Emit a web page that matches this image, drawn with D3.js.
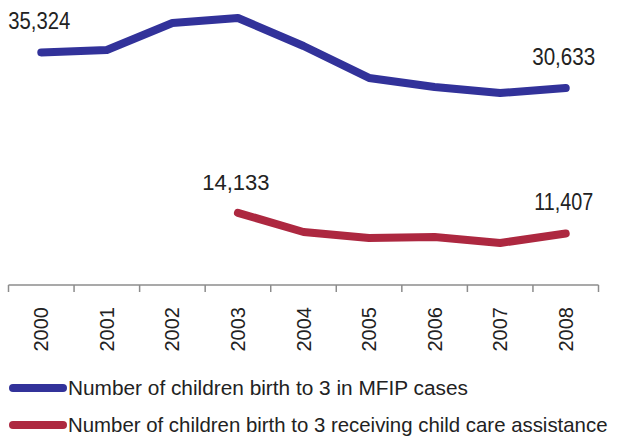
<!DOCTYPE html>
<html lang="en">
<head>
  <meta charset="utf-8">
  <title>Children birth to 3</title>
  <script src="https://d3js.org/d3.v7.min.js"></script>
  <style>
    body { margin: 0; background: #fff; }
  </style>
</head>
<body>
<script>
// data
var years = ["2000","2001","2002","2003","2004","2005","2006","2007","2008"];
var mfip = [35324, 35640, 39210, 39870, 36170, 31950, 30760, 29960, 30633];
var childCare = [null, null, null, 14133, 11600, 10810, 10940, 10150, 11407];
var seriesNames = ["Number of children birth to 3 in MFIP cases",
                   "Number of children birth to 3 receiving child care assistance"];
var seriesColors = ["#32329a", "#ad2840"];

var w = 618, h = 441;
var axisY = 285;

var svg = d3.select("body").append("svg")
  .attr("width", w)
  .attr("height", h);

var x = d3.scaleBand()
  .domain(years)
  .range([8.5, 598.5]);

var y = d3.scaleLinear()
  .domain([4600, 40000])
  .range([axisY, 17]);

// squeeze a text horizontally to a wanted width (stand-in for a narrow face)
function squeeze(sel, width, anchorX) {
  sel.each(function() {
    var t = d3.select(this);
    var natural = this.getComputedTextLength();
    var s = width / natural;
    t.attr("transform", "translate(" + anchorX + ",0) scale(" + s + ",1) translate(" + (-anchorX) + ",0)");
  });
}

// x axis: baseline with ticks at category edges
var axisG = svg.append("g").attr("transform", "translate(0," + axisY + ")");
axisG.append("line")
  .attr("x1", x.range()[0]).attr("x2", x.range()[1])
  .attr("stroke", "#8c8c8c").attr("stroke-width", 1.5);
var edges = years.map(function(d) { return x(d); }).concat([x.range()[1]]);
axisG.selectAll(".tk").data(edges).enter().append("line")
  .attr("x1", function(d) { return d; }).attr("x2", function(d) { return d; })
  .attr("y1", 0).attr("y2", 7)
  .attr("stroke", "#8c8c8c").attr("stroke-width", 1.5);

axisG.selectAll(".yr").data(years).enter().append("text")
  .attr("transform", function(d) {
    return "translate(" + (x(d) + x.bandwidth() / 2 + 7) + ",22) rotate(-90)";
  })
  .attr("text-anchor", "end")
  .attr("font-family", "'Liberation Sans', Arial, sans-serif")
  .attr("font-size", 20)
  .attr("fill", "#222")
  .text(function(d) { return d; });

var cx = function(i) { return x(years[i]) + x.bandwidth() / 2; };

var line = d3.line()
  .defined(function(d) { return d != null; })
  .x(function(d, i) { return cx(i); })
  .y(function(d) { return y(d); });

[mfip, childCare].forEach(function(vals, k) {
  svg.append("path")
    .attr("d", line(vals))
    .attr("fill", "none")
    .attr("stroke", seriesColors[k])
    .attr("stroke-width", 8)
    .attr("stroke-linecap", "round")
    .attr("stroke-linejoin", "round");
});

// end labels (three of them in a condensed face)
var labels = [
  {i: 0, v: mfip[0], len: 62},
  {i: 8, v: mfip[8], len: 63},
  {i: 3, v: childCare[3], len: 0},
  {i: 8, v: childCare[8], len: 59}
];
svg.selectAll(".lbl").data(labels).enter().append("text")
  .attr("x", function(d) { return cx(d.i) - 2; })
  .attr("y", function(d) { return y(d.v) - 23; })
  .attr("text-anchor", "middle")
  .attr("font-family", "'Liberation Sans', Arial, sans-serif")
  .attr("font-size", function(d) { return d.len ? 23 : 22; })
  .attr("fill", "#222")
  .text(function(d) { return d3.format(",")(d.v); })
  .each(function(d) {
    if (d.len) squeeze(d3.select(this), d.len, cx(d.i) - 2);
  });

// legend
var legendWidths = [400, 540];
var leg = svg.selectAll(".leg").data(seriesNames).enter().append("g")
  .attr("transform", function(d, i) { return "translate(0," + (388 + i * 37) + ")"; });
leg.append("line")
  .attr("x1", 13).attr("x2", 63)
  .attr("stroke", function(d, i) { return seriesColors[i]; })
  .attr("stroke-width", 8)
  .attr("stroke-linecap", "round");
leg.append("text")
  .attr("x", 68)
  .attr("y", 7)
  .attr("font-family", "'Liberation Sans', Arial, sans-serif")
  .attr("font-size", 21)
  .attr("fill", "#222")
  .text(function(d) { return d; })
  .each(function(d, i) { squeeze(d3.select(this), legendWidths[i], 68); });
</script>
</body>
</html>
